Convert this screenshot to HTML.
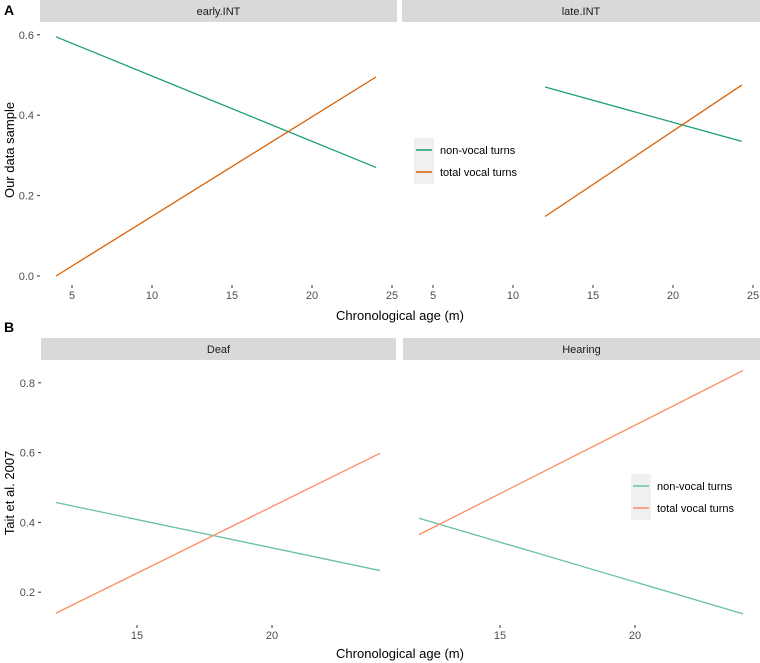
<!DOCTYPE html>
<html><head><meta charset="utf-8"><style>
body{margin:0;background:#fff;}
svg{display:block;font-family:"Liberation Sans",sans-serif;}
</style></head><body>
<svg id="c" width="760" height="663"></svg>
<script>
const facetsA=["early.INT","late.INT"];
const facetsB=["Deaf","Hearing"];
const seriesNames=["non-vocal turns","total vocal turns"];
// [x0,y0,x1,y1] per facet
const aNonVocal=[[4,0.595,24,0.27],[12,0.47,24.3,0.335]];
const aTotalVocal=[[4,0.0,24,0.495],[12,0.148,24.3,0.475]];
const bNonVocal=[[12,0.457,24,0.262],[12,0.412,24,0.138]];
const bTotalVocal=[[12,0.14,24,0.598],[12,0.365,24,0.835]];
const aXTicks=[5,10,15,20,25];
const aYTicks=[0,0.2,0.4,0.6];
const bXTicks=[15,20];
const bYTicks=[0.2,0.4,0.6,0.8];
const ns="http://www.w3.org/2000/svg";
const svg=document.getElementById('c');
function el(t,a,p){const e=document.createElementNS(ns,t);for(const k in a)e.setAttribute(k,a[k]);(p||svg).appendChild(e);return e;}
function txt(s,a,p){const e=el('text',a,p);e.textContent=s;return e;}
function panel(cfg){
  const g=el('g',{});
  
  
  cfg.facets.forEach((f,i)=>{
    const sx=cfg.strips[i];
    const s=el('rect',{x:sx[0],y:cfg.stripY,width:sx[1]-sx[0],height:22,fill:'#d9d9d9'},g);
    
    
    txt(f,{x:(sx[0]+sx[1])/2,y:cfg.stripY+15,'text-anchor':'middle','font-size':11,fill:'#1a1a1a'},g);
    const X=v=>cfg.x0[i]+(v-cfg.xv0)*cfg.xs;
    cfg.xt.forEach(t=>{
      el('line',{x1:X(t),x2:X(t),y1:cfg.axisY,y2:cfg.axisY+3,stroke:'#333'},g);
      const l=txt(t,{x:X(t),y:cfg.axisY+14,'text-anchor':'middle','font-size':11,fill:'#4d4d4d'},g);
      
      
    });
    [[cfg.s1,cfg.c1,'non-vocal-line'],[cfg.s2,cfg.c2,'total-vocal-line']].forEach(([d,c,n])=>{
      const r=d[i];
      const ln=el('line',{x1:X(r[0]),y1:cfg.Y(r[1]),x2:X(r[2]),y2:cfg.Y(r[3]),stroke:c,'stroke-width':1.3},g);
      
      
    });
  });
  cfg.yt.forEach(t=>{
    el('line',{x1:cfg.strips[0][0]-3,x2:cfg.strips[0][0],y1:cfg.Y(t),y2:cfg.Y(t),stroke:'#333'},g);
    const l=txt(t.toFixed(1),{x:cfg.strips[0][0]-6,y:cfg.Y(t)+4,'text-anchor':'end','font-size':11,fill:'#4d4d4d'},g);
    
    
  });
  const xt=txt('Chronological age (m)',{x:400,y:cfg.xTitleY,'text-anchor':'middle','font-size':13,fill:'#000'},g);
  
  
  const yt=txt(cfg.ytitle,{x:0,y:0,'text-anchor':'middle','font-size':13,fill:'#000',transform:`translate(14,${cfg.ytY}) rotate(-90)`},g);
  
  
  const lg=el('g',{},g);
  
  
  const L=cfg.leg;
  el('rect',{x:L[0],y:L[1],width:20,height:46,fill:'#f0f0f0'},lg);
  [[cfg.c1,seriesNames[0]],[cfg.c2,seriesNames[1]]].forEach(([c,n],k)=>{
    const yy=L[1]+12+k*22;
    el('line',{x1:L[0]+2,x2:L[0]+18,y1:yy,y2:yy,stroke:c,'stroke-width':1.5},lg);
    const e=txt(n,{x:L[0]+26,y:yy+4,'font-size':11,fill:'#000'},lg);
    
    
  });
  txt(cfg.label,{x:4,y:cfg.labelY,'font-size':14,'font-weight':'bold',fill:'#000'});
}
panel({name:'panel-a',label:'A',labelY:15,facets:facetsA,strips:[[40,397],[402,760]],stripY:0,
  x0:[72,433],xv0:5,xs:16,Y:v=>276-v*402,axisY:285,xt:aXTicks,yt:aYTicks,
  s1:aNonVocal,s2:aTotalVocal,c1:'#1b9e77',c2:'#d95f02',xTitleY:320,ytitle:'Our data sample',ytY:150,leg:[414,138]});
panel({name:'panel-b',label:'B',labelY:332,facets:facetsB,strips:[[41,396],[403,760]],stripY:338,
  x0:[137,500],xv0:15,xs:27,Y:v=>662-v*349,axisY:625,xt:bXTicks,yt:bYTicks,
  s1:bNonVocal,s2:bTotalVocal,c1:'#66c2a5',c2:'#fc8d62',xTitleY:658,ytitle:'Tait et al. 2007',ytY:493,leg:[631,474]});
</script>
</body></html>
